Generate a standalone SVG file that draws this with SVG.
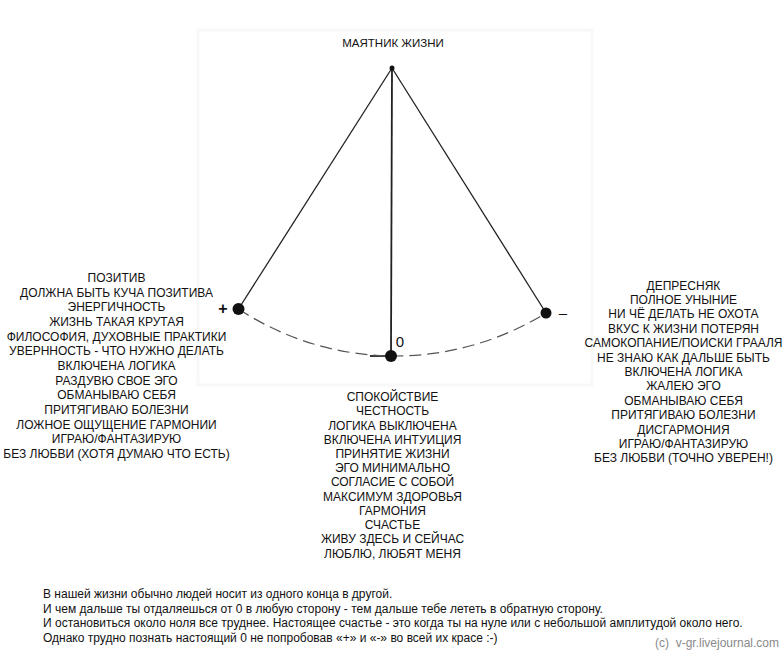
<svg xmlns="http://www.w3.org/2000/svg" width="784" height="658" viewBox="0 0 784 658">
<style>
text{font-family:"Liberation Sans",Arial,sans-serif;fill:#111}
.blk{font-size:12px;text-anchor:middle}
.bot{font-size:12px}
.copy{font-size:12px;fill:#8a8a8a}
.rod{stroke:#222;stroke-width:1.3;fill:none}
.bob{fill:#111}
</style>
<rect width="784" height="658" fill="#fff"/>
<rect x="198" y="30" width="394" height="355" fill="none" stroke="#f8f8f8" stroke-width="3"/>
<g id="title"><text x="393" y="47" class="blk" style="font-size:11.5px">МАЯТНИК ЖИЗНИ</text></g>
<g id="connectors">
<line class="rod" x1="392" y1="68" x2="238.5" y2="309"/>
<line class="rod" x1="392" y1="68" x2="546" y2="313"/>
<line class="rod" x1="392" y1="68" x2="391" y2="352" style="stroke-width:1.8"/>
<line class="rod" x1="370" y1="356" x2="388" y2="356" style="stroke-width:1.8"/>
<path d="M238.5 309 A287 287 0 0 0 391 356 A288 288 0 0 0 546 313" fill="none" stroke="#555" stroke-width="1.2" stroke-dasharray="12 6"/>
</g>
<g id="pivot"><circle cx="392" cy="68" r="2.5" class="bob"/></g>
<g id="plus">
<circle cx="238.5" cy="309" r="6" class="bob"/>
<text x="223" y="314" style="font-size:16px;font-weight:bold;text-anchor:middle">+</text>
</g>
<g id="minus">
<circle cx="546" cy="313" r="5.5" class="bob"/>
<text x="563" y="318" style="font-size:15px;text-anchor:middle">–</text>
</g>
<g id="zero">
<circle cx="391" cy="356" r="6" class="bob"/>
<text x="400" y="347" style="font-size:15px;text-anchor:middle">0</text>
</g>
<g id="left-list">
<text x="116.5" y="282" class="blk">ПОЗИТИВ</text>
<text x="116.5" y="296.7" class="blk">ДОЛЖНА БЫТЬ КУЧА ПОЗИТИВА</text>
<text x="116.5" y="311.3" class="blk">ЭНЕРГИЧНОСТЬ</text>
<text x="116.5" y="326" class="blk">ЖИЗНЬ ТАКАЯ КРУТАЯ</text>
<text x="116.5" y="340.7" class="blk">ФИЛОСОФИЯ, ДУХОВНЫЕ ПРАКТИКИ</text>
<text x="116.5" y="355.3" class="blk">УВЕРННОСТЬ - ЧТО НУЖНО ДЕЛАТЬ</text>
<text x="116.5" y="370" class="blk">ВКЛЮЧЕНА ЛОГИКА</text>
<text x="116.5" y="384.7" class="blk">РАЗДУВЮ СВОЕ ЭГО</text>
<text x="116.5" y="399.3" class="blk">ОБМАНЫВАЮ СЕБЯ</text>
<text x="116.5" y="414" class="blk">ПРИТЯГИВАЮ БОЛЕЗНИ</text>
<text x="116.5" y="428.7" class="blk">ЛОЖНОЕ ОЩУЩЕНИЕ ГАРМОНИИ</text>
<text x="116.5" y="443.3" class="blk">ИГРАЮ/ФАНТАЗИРУЮ</text>
<text x="116.5" y="458" class="blk">БЕЗ ЛЮБВИ (ХОТЯ ДУМАЮ ЧТО ЕСТЬ)</text>
</g>
<g id="right-list">
<text x="683.5" y="289.5" class="blk">ДЕПРЕСНЯК</text>
<text x="683.5" y="303.9" class="blk">ПОЛНОЕ УНЫНИЕ</text>
<text x="683.5" y="318.3" class="blk">НИ ЧЁ ДЕЛАТЬ НЕ ОХОТА</text>
<text x="683.5" y="332.7" class="blk">ВКУС К ЖИЗНИ ПОТЕРЯН</text>
<text x="683.5" y="347.1" class="blk">САМОКОПАНИЕ/ПОИСКИ ГРААЛЯ</text>
<text x="683.5" y="361.5" class="blk">НЕ ЗНАЮ КАК ДАЛЬШЕ БЫТЬ</text>
<text x="683.5" y="375.9" class="blk">ВКЛЮЧЕНА ЛОГИКА</text>
<text x="683.5" y="390.3" class="blk">ЖАЛЕЮ ЭГО</text>
<text x="683.5" y="404.7" class="blk">ОБМАНЫВАЮ СЕБЯ</text>
<text x="683.5" y="419.1" class="blk">ПРИТЯГИВАЮ БОЛЕЗНИ</text>
<text x="683.5" y="433.5" class="blk">ДИСГАРМОНИЯ</text>
<text x="683.5" y="447.9" class="blk">ИГРАЮ/ФАНТАЗИРУЮ</text>
<text x="683.5" y="462.3" class="blk">БЕЗ ЛЮБВИ (ТОЧНО УВЕРЕН!)</text>
</g>
<g id="center-list">
<text x="392.5" y="401" class="blk">СПОКОЙСТВИЕ</text>
<text x="392.5" y="415.2" class="blk">ЧЕСТНОСТЬ</text>
<text x="392.5" y="429.5" class="blk">ЛОГИКА ВЫКЛЮЧЕНА</text>
<text x="392.5" y="443.7" class="blk">ВКЛЮЧЕНА ИНТУИЦИЯ</text>
<text x="392.5" y="458" class="blk">ПРИНЯТИЕ ЖИЗНИ</text>
<text x="392.5" y="472.2" class="blk">ЭГО МИНИМАЛЬНО</text>
<text x="392.5" y="486.4" class="blk">СОГЛАСИЕ С СОБОЙ</text>
<text x="392.5" y="500.7" class="blk">МАКСИМУМ ЗДОРОВЬЯ</text>
<text x="392.5" y="514.9" class="blk">ГАРМОНИЯ</text>
<text x="392.5" y="529.2" class="blk">СЧАСТЬЕ</text>
<text x="392.5" y="543.4" class="blk">ЖИВУ ЗДЕСЬ И СЕЙЧАС</text>
<text x="392.5" y="557.6" class="blk">ЛЮБЛЮ, ЛЮБЯТ МЕНЯ</text>
</g>
<g id="footnote">
<text x="43" y="598" class="bot">В нашей жизни обычно людей носит из одного конца в другой.</text>
<text x="43" y="612.5" class="bot">И чем дальше ты отдаляешься от 0 в любую сторону - тем дальше тебе лететь в обратную сторону.</text>
<text x="43" y="627" class="bot">И остановиться около ноля все труднее. Настоящее счастье - это когда ты на нуле или с небольшой амплитудой около него.</text>
<text x="43" y="641.5" class="bot">Однако трудно познать настоящий 0 не попробовав «+» и «-» во всей их красе :-)</text>
<text x="655" y="647" class="copy" xml:space="preserve">(c)  v-gr.livejournal.com</text>
</g>
</svg>
